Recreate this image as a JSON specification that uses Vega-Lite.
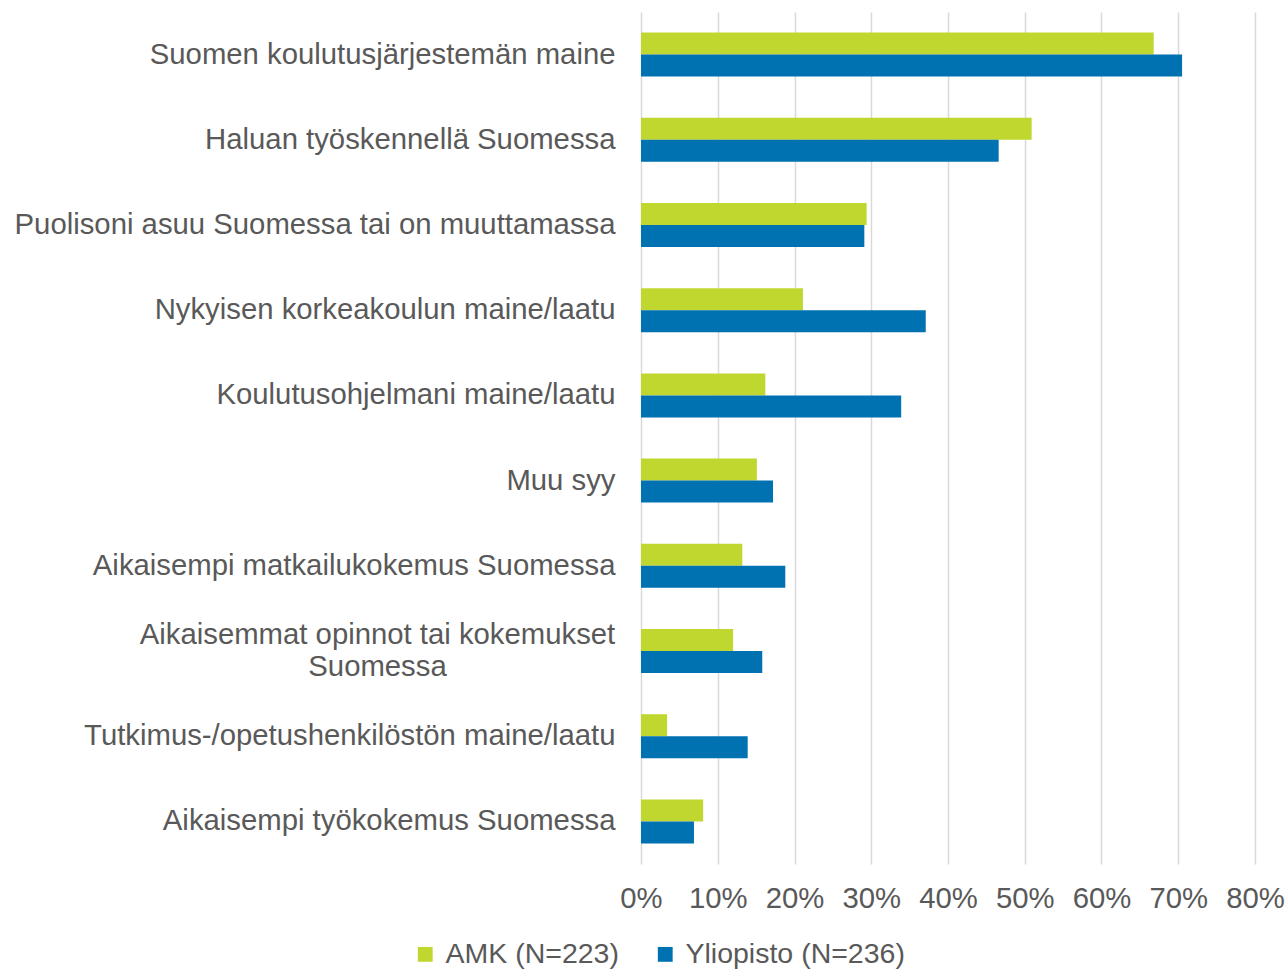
{
  "$schema": "https://vega.github.io/schema/vega-lite/v6.json",
  "width": 614,
  "height": 852,
  "autosize": {"type": "none"},
  "padding": {"left": 641, "top": 12, "right": 33, "bottom": 106},
  "background": "white",
  "config": {
    "font": "Liberation Sans",
    "view": {"stroke": null},
    "axis": {"labelColor": "#595959", "labelFontSize": 29.3, "labelFont": "Liberation Sans"},
    "legend": {"labelColor": "#595959", "labelFontSize": 28.5, "labelFont": "Liberation Sans"}
  },
  "data": {
    "values": [
      {"syy": "Suomen koulutusjärjestemän maine", "ryhmä": "AMK (N=223)", "osuus": 0.668},
      {"syy": "Suomen koulutusjärjestemän maine", "ryhmä": "Yliopisto (N=236)", "osuus": 0.705},
      {"syy": "Haluan työskennellä Suomessa", "ryhmä": "AMK (N=223)", "osuus": 0.509},
      {"syy": "Haluan työskennellä Suomessa", "ryhmä": "Yliopisto (N=236)", "osuus": 0.466},
      {"syy": "Puolisoni asuu Suomessa tai on muuttamassa", "ryhmä": "AMK (N=223)", "osuus": 0.294},
      {"syy": "Puolisoni asuu Suomessa tai on muuttamassa", "ryhmä": "Yliopisto (N=236)", "osuus": 0.291},
      {"syy": "Nykyisen korkeakoulun maine/laatu", "ryhmä": "AMK (N=223)", "osuus": 0.211},
      {"syy": "Nykyisen korkeakoulun maine/laatu", "ryhmä": "Yliopisto (N=236)", "osuus": 0.371},
      {"syy": "Koulutusohjelmani maine/laatu", "ryhmä": "AMK (N=223)", "osuus": 0.162},
      {"syy": "Koulutusohjelmani maine/laatu", "ryhmä": "Yliopisto (N=236)", "osuus": 0.339},
      {"syy": "Muu syy", "ryhmä": "AMK (N=223)", "osuus": 0.151},
      {"syy": "Muu syy", "ryhmä": "Yliopisto (N=236)", "osuus": 0.172},
      {"syy": "Aikaisempi matkailukokemus Suomessa", "ryhmä": "AMK (N=223)", "osuus": 0.132},
      {"syy": "Aikaisempi matkailukokemus Suomessa", "ryhmä": "Yliopisto (N=236)", "osuus": 0.188},
      {"syy": "Aikaisemmat opinnot tai kokemukset|Suomessa", "ryhmä": "AMK (N=223)", "osuus": 0.120},
      {"syy": "Aikaisemmat opinnot tai kokemukset|Suomessa", "ryhmä": "Yliopisto (N=236)", "osuus": 0.158},
      {"syy": "Tutkimus-/opetushenkilöstön maine/laatu", "ryhmä": "AMK (N=223)", "osuus": 0.034},
      {"syy": "Tutkimus-/opetushenkilöstön maine/laatu", "ryhmä": "Yliopisto (N=236)", "osuus": 0.139},
      {"syy": "Aikaisempi työkokemus Suomessa", "ryhmä": "AMK (N=223)", "osuus": 0.081},
      {"syy": "Aikaisempi työkokemus Suomessa", "ryhmä": "Yliopisto (N=236)", "osuus": 0.069}
    ]
  },
  "mark": {"type": "bar"},
  "encoding": {
    "y": {
      "field": "syy",
      "type": "nominal",
      "sort": null,
      "title": null,
      "scale": {"paddingInner": 0.484, "paddingOuter": 0.242},
      "axis": {
        "domain": false,
        "ticks": false,
        "labelPadding": {"condition": {"test": "indexof(datum.value, '|') >= 0", "value": 264}, "value": 26},
        "labelAlign": {"condition": {"test": "indexof(datum.value, '|') >= 0", "value": "center"}, "value": "right"},
        "labelLimit": 0,
        "labelLineHeight": 32,
        "labelOffset": {"condition": {"test": "indexof(datum.value, '|') >= 0", "value": -16}, "value": 0},
        "labelExpr": "indexof(datum.label, '|') >= 0 ? split(datum.label, '|') : datum.label"
      }
    },
    "yOffset": {"field": "ryhmä", "type": "nominal", "sort": null},
    "x": {
      "field": "osuus",
      "type": "quantitative",
      "title": null,
      "scale": {"domain": [0, 0.8], "nice": false},
      "axis": {
        "format": ".0%",
        "values": [0, 0.1, 0.2, 0.3, 0.4, 0.5, 0.6, 0.7, 0.8],
        "domain": false,
        "ticks": false,
        "grid": true,
        "gridColor": "#d9d9d9",
        "gridWidth": 1.5,
        "labelPadding": 20,
        "labelOverlap": false,
        "labelFlush": false,
        "labelBound": false,
        "labelAlign": "center"
      }
    },
    "color": {
      "field": "ryhmä",
      "type": "nominal",
      "sort": null,
      "scale": {"range": ["#c0d72f", "#0071b1"]},
      "legend": {
        "title": null,
        "orient": "none",
        "direction": "horizontal",
        "legendX": -230,
        "legendY": 928,
        "symbolType": "square",
        "symbolSize": 220,
        "symbolStrokeWidth": 0,
        "symbolOpacity": 1,
        "columnPadding": 32,
        "labelOffset": 6,
        "labelLimit": 0
      }
    }
  }
}
